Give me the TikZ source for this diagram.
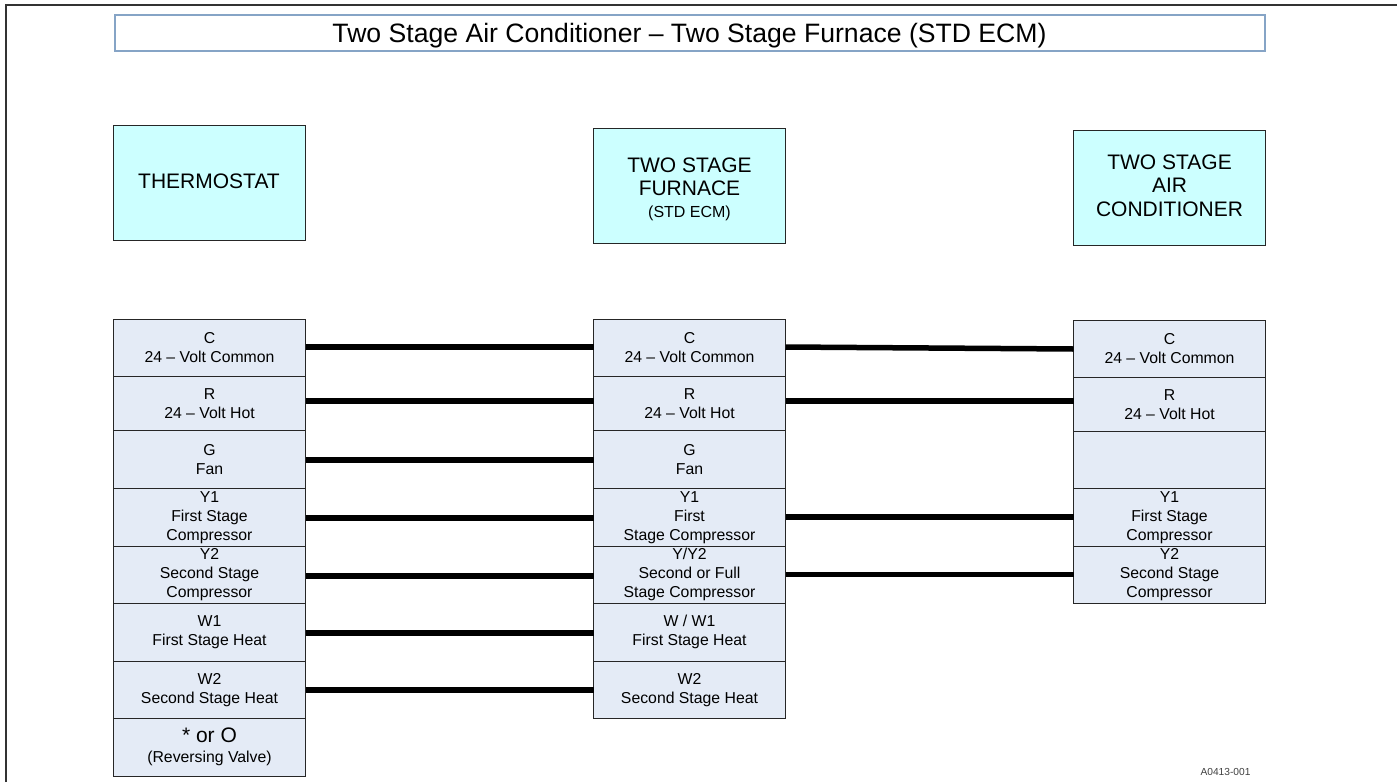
\documentclass[tikz,border=0pt]{standalone}
\usepackage{fontspec}
\setmainfont{Liberation Sans}
\definecolor{pinfill}{HTML}{E4EBF6}
\definecolor{headfill}{HTML}{CCFFFF}
\definecolor{titleline}{HTML}{86A4C6}
\tikzset{
    headbox/.style={draw=black!85,line width=1pt,fill=headfill,minimum width=192pt,minimum height=115pt,
        outer sep=0pt,align=center,font=\fontsize{21}{23.5}\selectfont},
    pinbox/.style={draw=black!85,line width=1pt,fill=pinfill,minimum width=192pt,outer sep=0pt,anchor=north west,
        align=center,inner sep=0pt,font=\fontsize{15.8}{19}\selectfont},
    wire/.style={line width=5.5pt}
}
\begin{document}
\begin{tikzpicture}[x=1pt,y=-1pt]
    \useasboundingbox (0,0) rectangle (1397,782);

    % frame and title
    \draw[line width=2pt,black!80] (5.5,782) -- (5.5,5) -- (1397,5);
    \node (title) [draw=titleline,line width=2pt,fill=white,minimum width=1150pt,minimum height=36pt,
        outer sep=0pt,inner ysep=2pt,text height=22pt,text depth=4pt,font=\fontsize{26.6}{30}\selectfont] at (689.5,33)
        {Two Stage Air Conditioner – Two Stage Furnace (STD ECM)};

    % header boxes
    \node (thermostat) [headbox] at (209,182.5) {\rule[-2pt]{0pt}{2pt}THERMOSTAT};
    \node (furnace) [headbox] at (689.5,186) {\rule{0pt}{21pt}TWO STAGE\\FURNACE\\[-2pt]{\fontsize{16}{18}\selectfont (STD ECM)}};
    \node (ac) [headbox] at (1169.5,187.5) {TWO STAGE\\AIR\\CONDITIONER\rule[-4pt]{0pt}{4pt}};

    % thermostat column
    \foreach \name/\top/\high/\body in {
        C/319/57.5/{C\\24 – Volt Common},
        R/376.5/54/{R\\24 – Volt Hot},
        G/430.5/58/{G\\Fan},
        Yone/488.5/57.5/{Y1\\First Stage\\Compressor},
        Ytwo/546/57.5/{Y2\\Second Stage\\Compressor},
        Wone/603.5/57.5/{W1\\First Stage Heat},
        Wtwo/661/57.5/{W2\\Second Stage Heat}}{
        \node (T\name) [pinbox,minimum height=\high pt] at (113.5,\top) {\body};
    }
    \node (Trev) [pinbox,minimum height=57.5pt] at (113.5,718.5)
        {{\fontsize{21}{24}\selectfont * or O}\\[1pt](Reversing Valve)};

    % furnace column
    \foreach \name/\top/\high/\body in {
        C/319/57.5/{C\\24 – Volt Common},
        R/376.5/54/{R\\24 – Volt Hot},
        G/430.5/58/{G\\Fan},
        Yone/488.5/57.5/{Y1\\First\\Stage Compressor},
        Ytwo/546/57.5/{Y/Y2\\Second or Full\\Stage Compressor},
        Wone/603.5/57.5/{W / W1\\First Stage Heat},
        Wtwo/661/57.5/{W2\\Second Stage Heat}}{
        \node (F\name) [pinbox,minimum height=\high pt] at (593.5,\top) {\body};
    }

    % air conditioner column
    \foreach \name/\top/\high/\body in {
        C/320/57.5/{C\\24 – Volt Common},
        R/377.5/53.5/{R\\24 – Volt Hot},
        G/431/57.5/{},
        Yone/488.5/57.5/{Y1\\First Stage\\Compressor},
        Ytwo/546/57.5/{Y2\\Second Stage\\Compressor}}{
        \node (A\name) [pinbox,minimum height=\high pt] at (1073.5,\top) {\body};
    }

    % wires
    \foreach \name/\off in {C/.75,R/2.5,G/-.5,Yone/-.75,Ytwo/-1.25,Wone/-.75,Wtwo/-.25}{
        \draw[wire] ([yshift=\off pt]T\name.east) -- ([yshift=\off pt]F\name.west);
    }
    \foreach \name/\offa/\offb in {C/.75/-.25,R/2.5/3.25,Yone/.25/.25,Ytwo/.25/.25}{
        \draw[wire] ([yshift=\offa pt]F\name.east) -- ([yshift=\offb pt]A\name.west);
    }

    \node (code) [font=\fontsize{10.2}{12}\selectfont,text=black!75] at (1225.5,771.5) {A0413-001};
\end{tikzpicture}
\end{document}
